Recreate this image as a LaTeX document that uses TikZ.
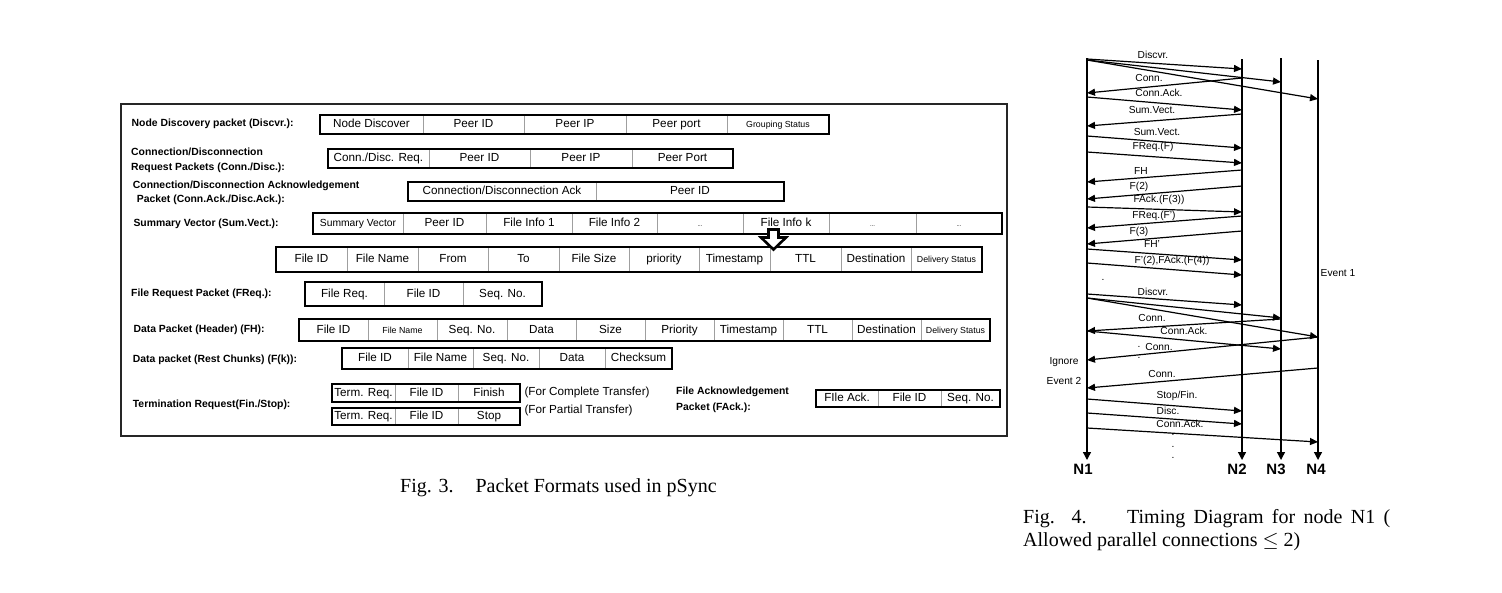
\documentclass[tikz,border=0pt]{standalone}
\usepackage{fontspec}
\setmainfont{Liberation Serif}
\setsansfont{Liberation Sans}
\usetikzlibrary{arrows.meta}
\newcommand\cellfont{\sffamily\fontsize{11.7}{13}\selectfont}
\newcommand\smf{\fontsize{8.8}{10}\selectfont}
\newcommand\svf{\fontsize{10.3}{11}\selectfont}
\newcommand\dotsf{\fontsize{6}{7}\selectfont}
\newcommand\lblfont{\sffamily\bfseries\fontsize{10.4}{12}\selectfont}
\newcommand\msgfont{\sffamily\fontsize{10.2}{11}\selectfont}
\newcommand\capfont{\rmfamily\fontsize{20}{23}\selectfont}
\newcommand\prow[5]{%
  \foreach \xa/\xb/\txt [count=\i] in {#5} {
    \node[cell, minimum width={(\xb-\xa)*1pt}, minimum height={(#3-#2)*1pt}] (#1\i) at ({(\xa+\xb)/2},{(#2+#3)/2}) {\txt};
  }
  \draw[outer] (#11.north west) rectangle (#1#4.south east);
}
\newcommand\msg[3]{\coordinate (#1s) at (#2); \coordinate (#1e) at (#3); \draw[msgarrow] (#1s) -- (#1e);}
\def\NA{1087}\def\NB{1242}\def\NC{1281}\def\ND{1318}
\tikzset{
  cell/.style={draw=gray!75, line width=0.9pt, inner sep=0pt, outer sep=0pt, font=\cellfont, text height=8.4pt, text depth=2.4pt},
  outer/.style={draw=black, line width=2pt},
  frame/.style={draw=black!85, line width=2.2pt},
  lbl/.style={anchor=west, inner sep=0pt, font=\lblfont, text height=7.5pt, text depth=0pt},
  note/.style={anchor=west, inner sep=0pt, font=\cellfont, text height=8.4pt, text depth=0pt},
  msgarrow/.style={line width=1.2pt, -{Triangle[length=8pt,width=7pt]}},
  life/.style={line width=1.3pt, -{Triangle[length=8pt,width=8pt]}},
  mlab/.style={inner sep=0pt, font=\msgfont},
  nlab/.style={inner sep=0pt, font=\sffamily\bfseries\fontsize{15}{17}\selectfont},
  captxt/.style={anchor=west, inner sep=0pt, font=\capfont},
}
\begin{document}
\begin{tikzpicture}[x=1pt,y=-1pt]
\useasboundingbox (0,0) rectangle (1502,592);
% ---------- Fig. 3 ----------
\draw[frame] (121,104) rectangle (1007,436);
\node[lbl] (l1) at (131.5,122.7) {Node Discovery packet (Discvr.):};
\node[lbl] (l2a) at (131,151.7) {Connection/Disconnection};
\node[lbl] (l2b) at (131,166.7) {Request Packets (Conn./Disc.):};
\node[lbl] (l3a) at (132.7,184.3) {Connection/Disconnection Acknowledgement};
\node[lbl] (l3b) at (136.7,199) {Packet (Conn.Ack./Disc.Ack.):};
\node[lbl] (l4) at (133.3,222.7) {Summary Vector (Sum.Vect.):};
\node[lbl] (l6) at (131,292.3) {File Request Packet (FReq.):};
\node[lbl] (l7) at (133.3,328.3) {Data Packet (Header) (FH):};
\node[lbl] (l8) at (132.7,358.3) {Data packet (Rest Chunks) (F(k)):};
\node[lbl] (l9) at (132.7,403.3) {Termination Request(Fin./Stop):};
\node[lbl] (l11a) at (676,391) {File Acknowledgement};
\node[lbl] (l11b) at (676,406.7) {Packet (FAck.):};

\prow{ra}{115}{133.5}{5}{320/423/Node Discover, 423/524/Peer ID, 524/626/Peer IP, 626/727/Peer port, 727/829/{\smf Grouping Status}}
\prow{rb}{149}{168}{4}{328/429/{Conn./Disc. Req.}, 429/530/Peer ID, 530/632/Peer IP, 632/733/Peer Port}
\prow{rc}{182}{201}{2}{408/596/{Connection/Disconnection Ack}, 596/784/Peer ID}
\prow{rd}{213}{234}{8}{313/403/{\svf Summary Vector}, 403/486/Peer ID, 486/572/File Info 1, 572/657/File Info 2, 657/743/{\dotsf ...}, 743/829/File Info k, 829/916/{\dotsf ...}, 916/1002/{\dotsf ...}}
\prow{re}{247}{272}{10}{276/347/File ID, 347/418/File Name, 418/488/From, 488/559/To, 559/629/File Size, 629/699/priority, 699/770/Timestamp, 770/841/TTL, 841/911/Destination, 911/982/{\smf Delivery Status}}
\prow{rf}{282}{306}{3}{305/384/File Req., 384/463/File ID, 463/542/Seq. No.}
\prow{rg}{319}{341}{10}{299/368/File ID, 368/437/{\smf File Name}, 437/507/Seq. No., 507/576/Data, 576/645/Size, 645/714/Priority, 714/783/Timestamp, 783/852/TTL, 852/921/Destination, 921/990/{\smf Delivery Status}}
\prow{rh}{348}{369}{5}{342/408/File ID, 408/473/File Name, 473/539/Seq. No., 539/605/Data, 605/672/Checksum}
\prow{ri}{384}{402}{3}{332/395/Term. Req., 395/458/File ID, 458/520/Finish}
\prow{rj}{408}{425}{3}{332/395/Term. Req., 395/458/File ID, 458/520/Stop}
\prow{rk}{390}{407}{3}{816/878/FIle Ack., 878/941/File ID, 941/1000/Seq. No.}
\node[note] (n1) at (524.3,391) {(For Complete Transfer)};
\node[note] (n2) at (524.3,409.3) {(For Partial Transfer)};
% block arrow
\draw[line width=2.6pt, fill=white, line join=miter] (768.5,229.5) -- (778.5,229.5) -- (778.5,237.5) -- (786,237.5) -- (773.5,249.5) -- (761,237.5) -- (768.5,237.5) -- cycle;
\node[captxt] (cap3) at (400,488) {Fig. 3.\hspace{22pt}Packet Formats used in pSync};
% ---------- Fig. 4 ----------
\coordinate (t1) at (\NA,58); \coordinate (b1) at (\NA,460);
\coordinate (t2) at (\NB,59); \coordinate (b2) at (\NB,460);
\coordinate (t3) at (\NC,58); \coordinate (b3) at (\NC,460);
\coordinate (t4) at (\ND,60); \coordinate (b4) at (\ND,460);
\draw[life] (t1) -- (b1);
\draw[life] (t2) -- (b2);
\draw[life] (t3) -- (b3);
\draw[life] (t4) -- (b4);
\node[nlab] (N1) at (1083,469) {N1};
\node[nlab] (N2) at (1237,469) {N2};
\node[nlab] (N3) at (1276,469) {N3};
\node[nlab] (N4) at (1316,469) {N4};

\msg{m1}{\NA,59}{\NB,69}
\msg{m2}{\NA,60}{\NC,82}
\msg{m3}{\NA,60}{\ND,99}
\msg{m4}{\NB,78}{\NA,93}
\msg{m5}{\NA,97}{\NB,110}
\msg{m6}{\NB,114}{\NA,126}
\msg{m7}{\NA,136}{\NB,148}
\msg{m8}{\NA,152}{\NB,163}
\msg{m9}{\NB,170}{\NA,182}
\msg{m10}{\NB,186}{\NA,199}
\msg{m11}{\NA,207}{\NB,212}
\msg{m12}{\NB,216}{\NA,228}
\msg{m13}{\NB,231}{\NA,244}
\msg{m14}{\NA,249}{\NB,260}
\msg{m15}{\NA,263}{\NB,275}
\msg{m16}{\NA,294}{\NB,305}
\msg{m17}{\NA,298}{\NC,318}
\msg{m18}{\NA,298}{\ND,337}
\msg{m19}{\NC,319}{\NA,331}
\msg{m20}{\NA,331}{\NC,349}
\msg{m21}{\ND,337}{\NA,360}
\msg{m22}{\ND,368}{\NA,388}
\msg{m23}{\NA,399}{\NB,411}
\msg{m24}{\NA,413}{\NB,424}
\msg{m25}{\NA,428}{\ND,442}

\node[mlab] (a1) at (1153,55) {Discvr.};
\node[mlab] (a4) at (1149,78) {Conn.};
\node[mlab] (a5) at (1159,93) {Conn.Ack.};
\node[mlab] (a6) at (1152,110) {Sum.Vect.};
\node[mlab] (a7) at (1157,132) {Sum.Vect.};
\node[mlab] (a8) at (1153,147) {FReq.(F)};
\node[mlab] (a9) at (1141,171) {FH};
\node[mlab] (a10) at (1139,187) {F(2)};
\node[mlab] (a11) at (1159,200) {FAck.(F(3))};
\node[mlab] (a12) at (1154,216) {FReq.(F')};
\node[mlab] (a13) at (1139,232) {F(3)};
\node[mlab] (a14) at (1152,244) {FH'};
\node[mlab] (a15) at (1172,261) {F'(2),FAck.(F(4))};
\node[mlab] (a16) at (1153,292) {Discvr.};
\node[mlab] (a19) at (1152,318) {Conn.};
\node[mlab] (a20) at (1184,331) {Conn.Ack.};
\node[mlab] (a21) at (1159,347) {Conn.};
\node[mlab] (a22) at (1162,374) {Conn.};
\node[mlab] (a23) at (1177,396) {Stop/Fin.};
\node[mlab] (a24) at (1168,411) {Disc.};
\node[mlab] (a25) at (1180,424) {Conn.Ack.};
\node[mlab] (ig) at (1064,362) {Ignore};
\node[mlab] (ev2) at (1064,381) {Event 2};
\node[mlab] (ev1) at (1338,273) {Event 1};
\node[mlab] (d1) at (1103,265) {.};
\node[mlab] (d2) at (1103,280) {.};
\node[mlab] (d3) at (1139,347) {.};
\node[mlab] (d4) at (1139,358) {.};
\node[mlab] (d5) at (1173,435) {.};
\node[mlab] (d6) at (1173,447) {.};
\node[mlab] (d7) at (1173,458) {.};

\node[captxt] (cap4a) at (1023,519) {\makebox[367pt][s]{Fig. 4.\hspace{24pt} Timing Diagram for node N1 (}};
\node[captxt] (cap4b) at (1023,542) {Allowed parallel connections $\leq$ 2)};
\end{tikzpicture}
\end{document}
